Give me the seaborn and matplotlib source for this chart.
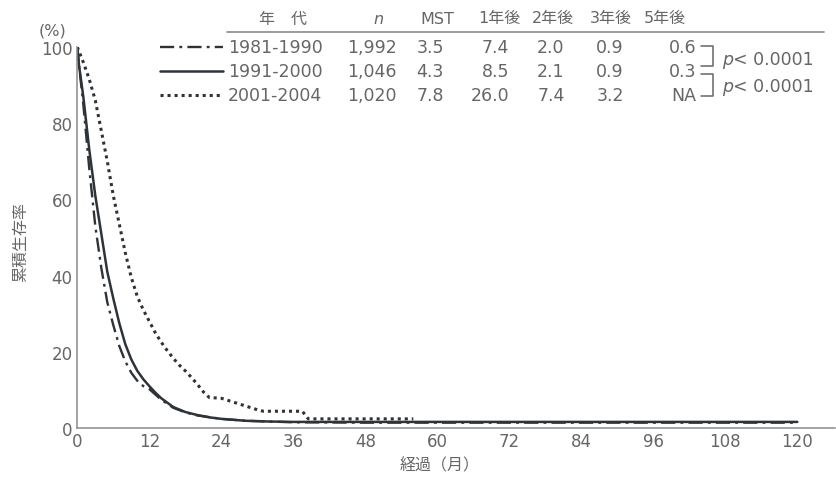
import numpy as np
import pandas as pd
import matplotlib
matplotlib.use("Agg")
import matplotlib.pyplot as plt
from matplotlib.lines import Line2D
import seaborn as sns

# ---- data ----
months_8190 = [0, 0.3, 1, 2, 3, 4, 5, 6, 7, 8, 9, 10, 11, 12, 14, 16, 18, 20, 24, 28, 36, 48, 60, 84, 120]
surv_8190 = [100, 95, 85, 68, 53, 42, 33, 27, 21.5, 17.5, 14.5, 12.4, 11.0, 10.2, 7.4, 5.3, 4.1, 3.3,
             2.4, 1.9, 1.5, 1.4, 1.4, 1.4, 1.4]

months_9100 = [0, 0.3, 1, 2, 3, 4, 5, 6, 7, 8, 9, 10, 11, 12, 13, 14, 16, 18, 20, 22, 24, 28, 32, 36,
               48, 60, 84, 120]
surv_9100 = [100, 95, 87, 73, 61, 51, 41, 34, 27.5, 22, 18, 15, 12.8, 11, 9.3, 7.8, 5.5, 4.2, 3.4,
             2.8, 2.4, 1.9, 1.7, 1.6, 1.6, 1.6, 1.6, 1.6]

months_0104 = [0, 0.5, 1, 2, 3, 4, 5, 6, 7, 8, 9, 10, 11, 12, 13, 14, 15, 16, 17, 18, 19, 20, 21, 22,
               24, 25, 26, 28, 30, 31, 37.5, 38.5, 56]
surv_0104 = [100, 98, 96, 91.5, 86, 78, 70, 61, 53.5, 46, 39.5, 34.5, 31, 28, 25, 22.5, 20.3, 18.3,
             16.5, 15, 13.3, 11.5, 9.5, 8, 7.8, 7.3, 6.8, 5.8, 4.8, 4.4, 4.4, 2.4, 2.4]

periods = ["1981-1990", "1991-2000", "2001-2004"]
n_cases = ["1,992", "1,046", "1,020"]
mst = ["3.5", "4.3", "7.8"]
yr1 = ["7.4", "8.5", "26.0"]
yr2 = ["2.0", "2.1", "7.4"]
yr3 = ["0.9", "0.9", "3.2"]
yr5 = ["0.6", "0.3", "NA"]
header = ["年\u3000代", "n", "MST", "1年後", "2年後", "3年後", "5年後"]
pvals = ["p< 0.0001", "p< 0.0001"]

sns.set_theme(style="white")
plt.rcParams['font.family'] = ['DejaVu Sans', 'Noto Sans CJK JP']

W, H = 836, 481
fig = plt.figure(figsize=(W / 100, H / 100), dpi=100)


def fx(px):
    return px / W


def fy(py):
    return 1 - py / H


x0, x1, ytop, ybot = 77.3, 835, 48, 429
ax = fig.add_axes([fx(x0), fy(ybot), fx(x1) - fx(x0), fy(ytop) - fy(ybot)])

line_col = "#2e3338"
text_col = "#666666"
axis_col = "#8a8a8a"

styles = {
    "1981-1990": dict(linestyle=(0, (6, 2.2, 1.2, 2.2)), linewidth=1.7),
    "1991-2000": dict(linestyle="-", linewidth=1.8),
    "2001-2004": dict(linestyle=(0, (1, 1.3)), linewidth=2.2),
}
series = [(months_8190, surv_8190), (months_9100, surv_9100), (months_0104, surv_0104)]

for name, (m, s) in zip(periods, series):
    df = pd.DataFrame({"month": m, "surv": s})
    sns.lineplot(data=df, x="month", y="surv", ax=ax, color=line_col, sort=False,
                 estimator=None, dash_capstyle="butt", **styles[name])

ax.set_xlim(0, (x1 - x0) / 6.0)
ax.set_ylim(0, 100)
ax.set_xticks(np.arange(0, 121, 12))
ax.set_yticks(np.arange(0, 101, 10))
ax.set_yticklabels([str(v) if v % 20 == 0 else "" for v in range(0, 101, 10)])
ax.tick_params(axis="both", direction="in", length=5.5, width=1, color=axis_col,
               labelcolor=text_col, labelsize=12)
ax.tick_params(axis="x", pad=3)
ax.tick_params(axis="y", pad=3.5)
for side in ["top", "right"]:
    ax.spines[side].set_visible(False)
for side in ["left", "bottom"]:
    ax.spines[side].set_color(axis_col)
    ax.spines[side].set_linewidth(1.1)
ax.set_xlabel("")
ax.set_ylabel("")
ax.patch.set_alpha(0)

# axis titles
fig.text(fx(52), fy(31), "(%)", ha="center", va="center", fontsize=11.5, color=text_col)
fig.text(fx(21), fy(242), "累積生存率", ha="center", va="center", rotation=90,
         fontsize=11.5, color=text_col)
fig.text(fx(440), fy(466), "経過（月）", ha="center", va="center", fontsize=11.5, color=text_col)

# ---- table block ----
fs_tab = 12.5
fs_head = 11.5
head_x = [283, 378, 437, 499, 553, 611, 665]
head_y = 19
for h, x in zip(header, head_x):
    fig.text(fx(x), fy(head_y), h, ha="center", va="center", fontsize=fs_head,
             color=text_col, style="italic" if h == "n" else "normal")
fig.add_artist(Line2D([fx(227), fx(824)], [fy(32.5), fy(32.5)], color="#8a8a8a", lw=1.2))

row_y = [48, 72, 96]
for i, name in enumerate(periods):
    y = row_y[i]
    fig.add_artist(Line2D([fx(160), fx(223)], [fy(y), fy(y)], color=line_col,
                          dash_capstyle="butt", **styles[name]))
    fig.text(fx(228), fy(y), periods[i], ha="left", va="center", fontsize=fs_tab, color=text_col)
    fig.text(fx(372), fy(y), n_cases[i], ha="center", va="center", fontsize=fs_tab, color=text_col)
    fig.text(fx(430), fy(y), mst[i], ha="center", va="center", fontsize=fs_tab, color=text_col)
    fig.text(fx(509), fy(y), yr1[i], ha="right", va="center", fontsize=fs_tab, color=text_col)
    fig.text(fx(551), fy(y), yr2[i], ha="center", va="center", fontsize=fs_tab, color=text_col)
    fig.text(fx(610), fy(y), yr3[i], ha="center", va="center", fontsize=fs_tab, color=text_col)
    fig.text(fx(696), fy(y), yr5[i], ha="right", va="center", fontsize=fs_tab, color=text_col)

# p-value brackets
for (ya, yb), p, yp in zip([(46.5, 67), (74.5, 97)], pvals, [60, 87]):
    fig.add_artist(Line2D([fx(701), fx(713), fx(713), fx(701)],
                          [fy(ya), fy(ya), fy(yb), fy(yb)], color=text_col, lw=1.1))
    fig.text(fx(722), fy(yp), "p", ha="left", va="center", fontsize=fs_tab,
             color=text_col, style="italic")
    fig.text(fx(733), fy(yp), p[1:], ha="left", va="center", fontsize=fs_tab, color=text_col)

fig.savefig("out.png", dpi=100)
